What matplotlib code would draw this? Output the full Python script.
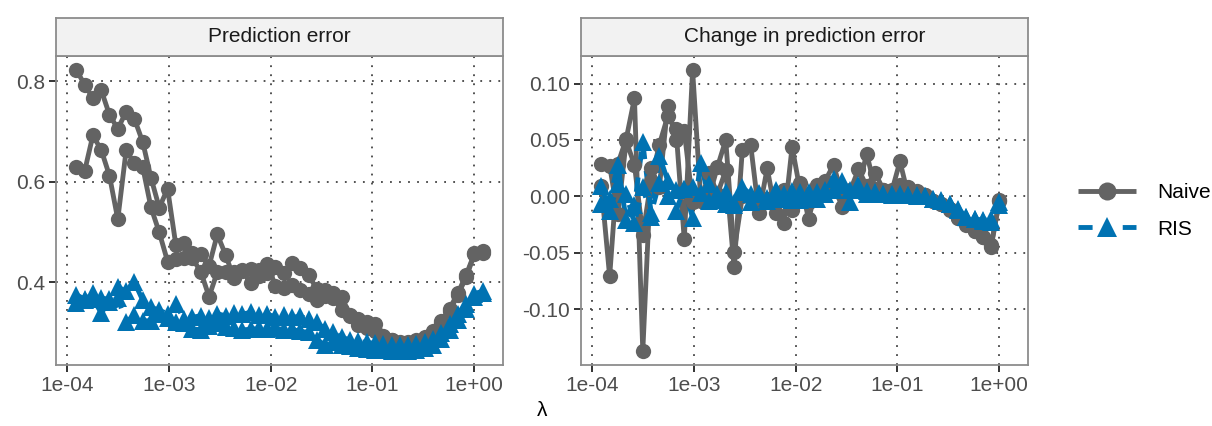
import numpy as np
import matplotlib
matplotlib.use("Agg")
import matplotlib.pyplot as plt
from matplotlib.lines import Line2D
from matplotlib.ticker import NullLocator, FixedLocator, FixedFormatter

plt.rcParams["font.family"] = ["Liberation Sans", "DejaVu Sans"]

# lambda grid (log10), shared by every fit
log_lambda = [
    -3.912, -3.830, -3.749, -3.667, -3.586, -3.504, -3.422, -3.341, -3.259, -3.178,
    -3.096, -3.014, -2.933, -2.851, -2.770, -2.688, -2.606, -2.525, -2.443, -2.362,
    -2.280, -2.198, -2.117, -2.035, -1.954, -1.872, -1.790, -1.709, -1.627, -1.546,
    -1.464, -1.382, -1.301, -1.219, -1.138, -1.056, -0.974, -0.893, -0.811, -0.730,
    -0.648, -0.566, -0.485, -0.403, -0.322, -0.240, -0.158, -0.077, 0.005, 0.086,
]

# prediction error, two replicates per method
naive_a = [
    0.822, 0.793, 0.766, 0.782, 0.733, 0.705, 0.739, 0.725, 0.679, 0.608,
    0.548, 0.586, 0.474, 0.478, 0.457, 0.455, 0.432, 0.495, 0.454, 0.408,
    0.423, 0.398, 0.413, 0.437, 0.393, 0.389, 0.394, 0.385, 0.376, 0.364,
    0.373, 0.368, 0.344, 0.335, 0.314, 0.308, 0.302, 0.292, 0.284, 0.279,
    0.278, 0.282, 0.289, 0.300, 0.319, 0.343, 0.374, 0.410, 0.455, 0.458,
]
naive_b = [
    0.630, 0.621, 0.692, 0.663, 0.612, 0.525, 0.662, 0.637, 0.629, 0.549,
    0.499, 0.441, 0.446, 0.447, 0.447, 0.421, 0.371, 0.420, 0.420, 0.421,
    0.424, 0.426, 0.424, 0.418, 0.430, 0.418, 0.438, 0.428, 0.414, 0.386,
    0.384, 0.378, 0.371, 0.333, 0.326, 0.320, 0.316, 0.285, 0.284, 0.281,
    0.280, 0.284, 0.291, 0.303, 0.322, 0.347, 0.378, 0.414, 0.457, 0.461,
]
ris_a = [
    0.375, 0.366, 0.379, 0.368, 0.366, 0.390, 0.382, 0.400, 0.364, 0.350,
    0.344, 0.337, 0.356, 0.326, 0.330, 0.333, 0.329, 0.337, 0.333, 0.338,
    0.336, 0.340, 0.334, 0.336, 0.331, 0.334, 0.330, 0.332, 0.326, 0.320,
    0.306, 0.300, 0.290, 0.285, 0.282, 0.280, 0.278, 0.276, 0.275, 0.274,
    0.274, 0.276, 0.280, 0.287, 0.298, 0.316, 0.336, 0.357, 0.377, 0.382,
]
ris_b = [
    0.358, 0.365, 0.367, 0.339, 0.360, 0.368, 0.320, 0.335, 0.323, 0.323,
    0.336, 0.329, 0.321, 0.318, 0.307, 0.305, 0.312, 0.318, 0.310, 0.308,
    0.305, 0.306, 0.308, 0.306, 0.309, 0.305, 0.306, 0.302, 0.300, 0.285,
    0.275, 0.280, 0.274, 0.272, 0.268, 0.266, 0.265, 0.264, 0.263, 0.263,
    0.263, 0.265, 0.268, 0.275, 0.287, 0.305, 0.325, 0.347, 0.370, 0.378,
]

x_ticks = [1e-4, 1e-3, 1e-2, 1e-1, 1e0]
x_labels = ["1e-04", "1e-03", "1e-02", "1e-01", "1e+00"]
err_ticks = [0.4, 0.6, 0.8]
err_labels = ["0.4", "0.6", "0.8"]
change_ticks = [-0.10, -0.05, 0.00, 0.05, 0.10]
change_labels = ["-0.10", "-0.05", "0.00", "0.05", "0.10"]
panel_titles = ["Prediction error", "Change in prediction error"]
methods = ["Naive", "RIS"]

GRAY = "#636363"
BLUE = "#0072B2"
LW = 3.5
styles = {
    "Naive": dict(color=GRAY, marker="o", ms=11, ls="-"),
    "RIS": dict(color=BLUE, marker="^", ms=12.5, ls=(0, (3.0, 2.4))),
}
# legend keys: one dash either side of the marker
legend_ls = {"Naive": "-", "RIS": (0, (2.9, 6.2))}

lam = 10 ** np.array(log_lambda)
err = {"Naive": [np.array(naive_a), np.array(naive_b)],
       "RIS": [np.array(ris_a), np.array(ris_b)]}
# change between consecutive lambdas
chg = {m: [s[:-1] - s[1:] for s in err[m]] for m in methods}


def expand(lo, hi, frac=0.05):
    pad = (hi - lo) * frac
    return lo - pad, hi + pad


W, H = 1212, 426
fig = plt.figure(figsize=(W / 100, H / 100), dpi=100)

panels = [(56, 503), (581, 1028)]
top, bottom, strip_top = 56, 365, 18

lx0, lx1 = expand(min(log_lambda), max(log_lambda))


def draw_panel(px, x, data, yticks, ylabels, title):
    x0, x1 = px
    ax = fig.add_axes([x0 / W, (H - bottom) / H, (x1 - x0) / W, (bottom - top) / H])
    for m in methods:
        st = styles[m]
        for ys in data[m]:
            ax.plot(x, ys, color=st["color"], lw=LW, ls=st["ls"], zorder=2,
                    solid_capstyle="butt", dash_capstyle="butt")
    for m in methods:
        st = styles[m]
        for ys in data[m]:
            ax.plot(x, ys, color=st["color"], marker=st["marker"], ms=st["ms"],
                    ls="none", mew=0, zorder=3)
    ax.set_xscale("log")
    ax.set_xlim(10 ** lx0, 10 ** lx1)
    allv = np.concatenate([v for m in methods for v in data[m]])
    ax.set_ylim(*expand(allv.min(), allv.max()))
    ax.xaxis.set_major_locator(FixedLocator(x_ticks))
    ax.xaxis.set_major_formatter(FixedFormatter(x_labels))
    ax.xaxis.set_minor_locator(NullLocator())
    ax.yaxis.set_major_locator(FixedLocator(yticks))
    ax.yaxis.set_major_formatter(FixedFormatter(ylabels))
    ax.yaxis.set_minor_locator(NullLocator())
    ax.grid(True, which="major", color="#444444", lw=1.3, ls=(0, (1, 4)))
    ax.set_axisbelow(True)
    for sp in ax.spines.values():
        sp.set_color("#8C8C8C")
        sp.set_linewidth(1.3)
    ax.tick_params(length=5, width=1.4, color="#333333", labelsize=15,
                   labelcolor="#4D4D4D", pad=3)

    # facet strip
    sx = fig.add_axes([x0 / W, (H - top) / H, (x1 - x0) / W, (top - strip_top) / H])
    sx.set_facecolor("#F2F2F2")
    sx.set_xticks([])
    sx.set_yticks([])
    for sp in sx.spines.values():
        sp.set_color("#8C8C8C")
        sp.set_linewidth(1.3)
    sx.text(0.5, 0.5, title, ha="center", va="center", fontsize=15,
            color="#1A1A1A", transform=sx.transAxes)
    return ax


draw_panel(panels[0], lam, err, err_ticks, err_labels, panel_titles[0])
draw_panel(panels[1], lam[:-1], chg, change_ticks, change_labels, panel_titles[1])

fig.text((panels[0][0] + panels[1][1]) / 2 / W, 15 / H, "λ", ha="center",
         va="center", fontsize=15, color="black")

handles = [Line2D([], [], color=styles[m]["color"], lw=LW, ls=legend_ls[m],
                  marker=styles[m]["marker"], ms=styles[m]["ms"] + 2, mew=0,
                  dash_capstyle="butt", solid_capstyle="butt")
           for m in methods]
fig.legend(handles, methods, loc="center left", bbox_to_anchor=(1078 / W, 0.505),
           frameon=False, fontsize=15, handlelength=2.8, handletextpad=1.0,
           labelspacing=0.85, borderpad=0, borderaxespad=0)

fig.savefig("out.png", dpi=100)
